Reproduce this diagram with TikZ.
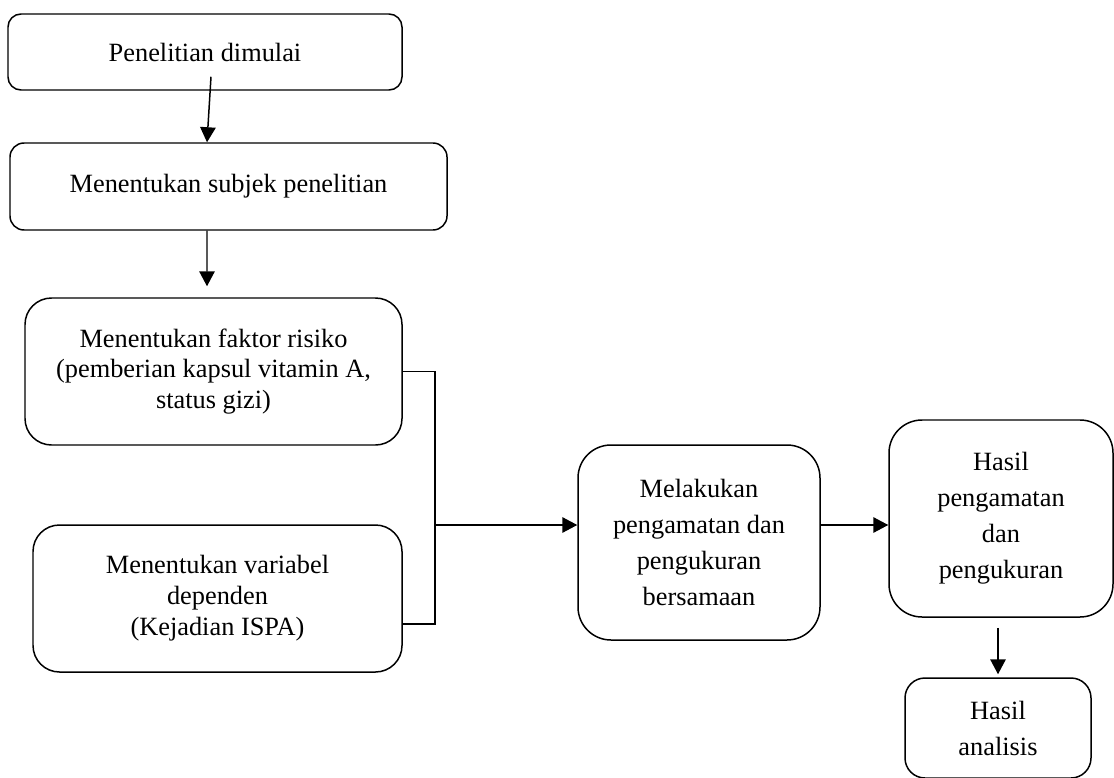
\documentclass[tikz,border=0pt]{standalone}
\usepackage{fontspec}
\setmainfont{Liberation Serif}
\usetikzlibrary{arrows.meta,positioning,calc}

\begin{document}
\begin{tikzpicture}[
    stepbox/.style={rectangle, draw=black, line width=0.85pt, align=center,
                    inner sep=0pt, font=\fontsize{15}{17.6}\selectfont},
    tallbox/.style={stepbox, font=\fontsize{15}{20.5}\selectfont},
    arr/.style={-{Triangle[length=0.30cm, width=0.31cm]}, line width=0.85pt},
    link/.style={line width=0.85pt}
  ]
    \useasboundingbox (0,0) rectangle (22.28,-15.56);

    % Step 1: start
    \node[stepbox, rounded corners=0.26cm, minimum width=7.88cm, minimum height=1.52cm]
      (start) at (4.10,-1.04) {Penelitian dimulai};
    % Step 2: subjects
    \node[stepbox, rounded corners=0.28cm, minimum width=8.74cm, minimum height=1.74cm]
      (subjek) at (4.57,-3.73) {Menentukan subjek penelitian};
    % Step 3: risk factors
    \node[stepbox, rounded corners=0.53cm, minimum width=7.54cm, minimum height=2.94cm]
      (faktor) at (4.27,-7.43) {Menentukan faktor risiko\\(pemberian kapsul vitamin A,\\status gizi)};
    % Step 4: dependent variable
    \node[stepbox, rounded corners=0.53cm, minimum width=7.38cm, minimum height=2.94cm]
      (variabel) at (4.35,-11.97) {Menentukan variabel\\dependen\\(Kejadian ISPA)};
    % Step 5: observation
    \node[tallbox, rounded corners=0.66cm, minimum width=4.84cm, minimum height=3.90cm]
      (amati) at (13.98,-10.85) {Melakukan\\pengamatan dan\\pengukuran\\bersamaan};
    % Step 6: results
    \node[tallbox, rounded corners=0.66cm, minimum width=4.48cm, minimum height=3.94cm]
      (hasil) at (20.02,-10.37) {Hasil\\pengamatan\\dan\\pengukuran};
    % Step 7: analysis
    \node[tallbox, rounded corners=0.40cm, minimum width=3.72cm, minimum height=2.00cm]
      (analisis) at (19.96,-14.56) {Hasil\\analisis};

    \coordinate (jn) at (8.70,-10.50);

    \draw[arr] ([xshift=0.12cm, yshift=0.28cm]start.south) -- ([xshift=-0.43cm]subjek.north);
    \draw[arr] ([xshift=-0.43cm]subjek.south) -- ([xshift=-0.13cm, yshift=0.22cm]faktor.north);
    \draw[link] (faktor.east) -| (jn) |- ([yshift=-0.51cm]variabel.east);
    \draw[arr] (jn) -- (amati.west |- jn);
    \draw[arr] (amati.east |- jn) -- (hasil.west |- jn);
    \draw[arr] ([xshift=-0.06cm, yshift=-0.20cm]hasil.south) -- ([yshift=0.06cm]analisis.north);
  \end{tikzpicture}
\end{document}
